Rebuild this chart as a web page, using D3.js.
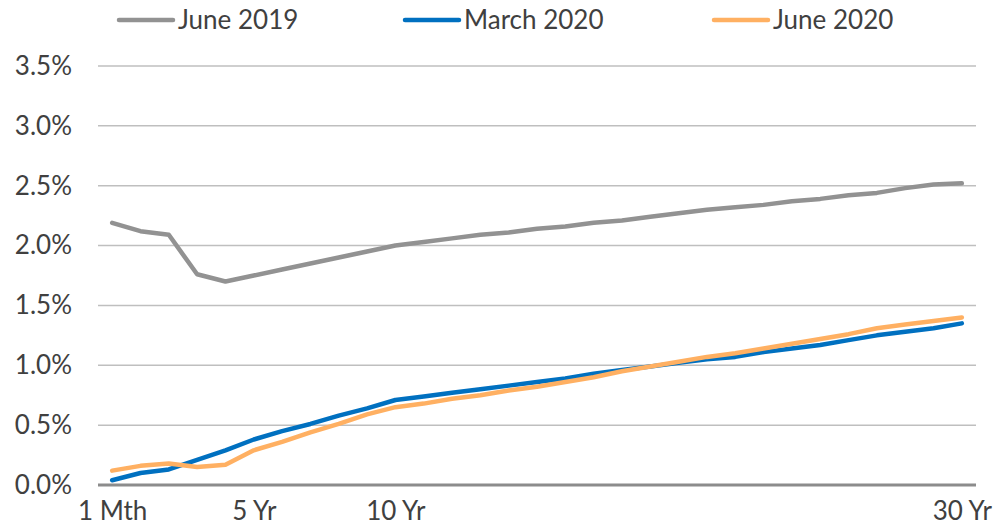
<!DOCTYPE html>
<html>
<head>
<meta charset="utf-8">
<script src="https://cdn.jsdelivr.net/npm/d3@7/dist/d3.min.js"></script>
<style>
  html, body { margin: 0; padding: 0; background: #fff; }
  svg { display: block; font-family: Lato, "Liberation Sans", sans-serif; }
</style>
</head>
<body>
<svg id="chart" width="1008" height="527"></svg>
<script>
// Maturities: 1 month, then 1 to 30 years
const maturities = ["1 Mth"].concat(d3.range(1, 31).map(y => y + " Yr"));
const tickLabels = ["1 Mth", "5 Yr", "10 Yr", "30 Yr"];
const yTicks = [0, 0.5, 1.0, 1.5, 2.0, 2.5, 3.0, 3.5];

// Yields (%)
const june2019 = [2.19, 2.12, 2.09, 1.76, 1.70, 1.75, 1.80, 1.85, 1.90, 1.95,
                  2.00, 2.03, 2.06, 2.09, 2.11, 2.14, 2.16, 2.19, 2.21, 2.24,
                  2.27, 2.30, 2.32, 2.34, 2.37, 2.39, 2.42, 2.44, 2.48, 2.51, 2.52];
const march2020 = [0.04, 0.10, 0.13, 0.21, 0.29, 0.38, 0.45, 0.51, 0.58, 0.64,
                   0.71, 0.74, 0.77, 0.80, 0.83, 0.86, 0.89, 0.93, 0.96, 0.99,
                   1.02, 1.05, 1.07, 1.11, 1.14, 1.17, 1.21, 1.25, 1.28, 1.31, 1.35];
const june2020  = [0.12, 0.16, 0.18, 0.15, 0.17, 0.29, 0.36, 0.44, 0.51, 0.59,
                   0.65, 0.68, 0.72, 0.75, 0.79, 0.82, 0.86, 0.90, 0.95, 0.99,
                   1.03, 1.07, 1.10, 1.14, 1.18, 1.22, 1.26, 1.31, 1.34, 1.37, 1.40];

const seriesNames = ["June 2019", "March 2020", "June 2020"];
const seriesColors = ["#929292", "#0070C0", "#FFB062"];
const seriesValues = [june2019, march2020, june2020];

const svg = d3.select("#chart");
const plot = { left: 98, right: 976, top: 66, bottom: 485 };
const fontSize = "26px";

const x = d3.scalePoint().domain(maturities).range([plot.left, plot.right]).padding(0.5);
const y = d3.scaleLinear().domain([0, 3.5]).range([plot.bottom, plot.top]);

// Horizontal gridlines
svg.append("g")
  .selectAll("line")
  .data(yTicks.filter(d => d > 0))
  .join("line")
  .attr("x1", plot.left).attr("x2", plot.right)
  .attr("y1", d => y(d)).attr("y2", d => y(d))
  .attr("stroke", "#bfbfbf").attr("stroke-width", 1.5);

// Y axis labels
const yAxis = d3.axisLeft(y).tickValues(yTicks).tickFormat(d => d.toFixed(1) + "%").tickSize(0).tickPadding(26);
const gy = svg.append("g").attr("transform", `translate(${plot.left},0)`).call(yAxis);
gy.select(".domain").remove();
gy.selectAll("text").attr("fill", "#404040").style("font-size", fontSize).style("font-family", "Lato, sans-serif");

// X axis baseline and labels
const xAxis = d3.axisBottom(x).tickValues(tickLabels).tickSize(0).tickPadding(17);
const gx = svg.append("g").attr("transform", `translate(0,${plot.bottom})`).call(xAxis);
gx.select(".domain").remove();
gx.selectAll("text").attr("fill", "#404040").style("font-size", fontSize).style("font-family", "Lato, sans-serif");
svg.append("line")
  .attr("x1", plot.left).attr("x2", plot.right)
  .attr("y1", y(0)).attr("y2", y(0))
  .attr("stroke", "#8c8c8c").attr("stroke-width", 3);

// Series lines
const line = d3.line().x((d, i) => x(maturities[i])).y(d => y(d));
svg.append("g")
  .selectAll("path")
  .data(seriesValues)
  .join("path")
  .attr("d", d => line(d))
  .attr("fill", "none")
  .attr("stroke", (d, i) => seriesColors[i])
  .attr("stroke-width", 4.5)
  .attr("stroke-linejoin", "round")
  .attr("stroke-linecap", "round");

// Legend
const legendX = [119, 405, 714];
const lg = svg.append("g")
  .selectAll("g")
  .data(seriesNames)
  .join("g")
  .attr("transform", (d, i) => `translate(${legendX[i]},20)`);
lg.append("line")
  .attr("x1", 0).attr("x2", 54).attr("y1", 0).attr("y2", 0)
  .attr("stroke", (d, i) => seriesColors[i])
  .attr("stroke-width", 4.5).attr("stroke-linecap", "round");
lg.append("text")
  .attr("x", 59).attr("y", 0).attr("dy", "0.35em")
  .attr("fill", "#404040")
  .style("font-size", fontSize)
  .text(d => d);
</script>
</body>
</html>
